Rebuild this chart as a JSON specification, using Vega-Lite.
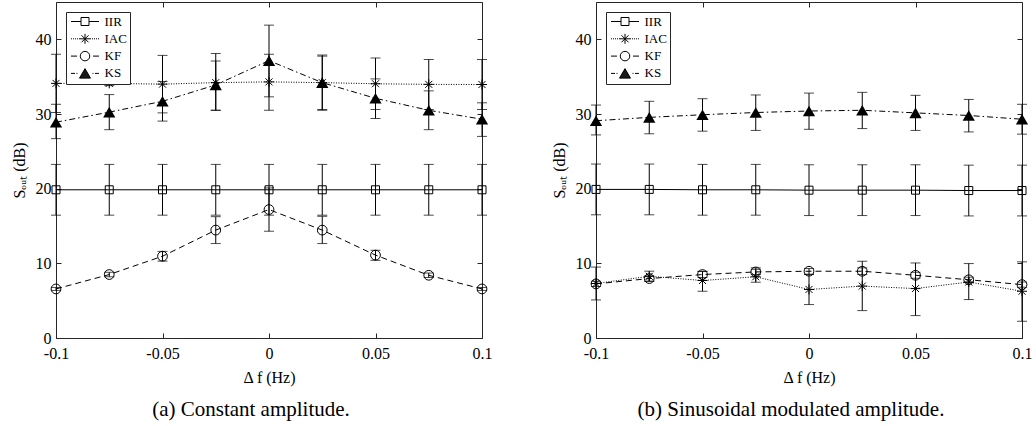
{
  "$schema": "https://vega.github.io/schema/vega-lite/v6.json",
  "padding": {"left": 10, "top": 1, "right": 0, "bottom": 0},
  "bounds": "flush",
  "spacing": 114,
  "resolve": {"scale": {"shape": "independent"}, "legend": {"shape": "independent"}},
  "datasets": {
    "a": [
      {"x": -0.1, "series": "IIR", "y": 19.85, "lo": 16.45, "hi": 23.25},
      {"x": -0.075, "series": "IIR", "y": 19.85, "lo": 16.45, "hi": 23.25},
      {"x": -0.05, "series": "IIR", "y": 19.85, "lo": 16.45, "hi": 23.25},
      {"x": -0.025, "series": "IIR", "y": 19.85, "lo": 16.45, "hi": 23.25},
      {"x": 0, "series": "IIR", "y": 19.85, "lo": 16.45, "hi": 23.25},
      {"x": 0.025, "series": "IIR", "y": 19.85, "lo": 16.45, "hi": 23.25},
      {"x": 0.05, "series": "IIR", "y": 19.85, "lo": 16.45, "hi": 23.25},
      {"x": 0.075, "series": "IIR", "y": 19.85, "lo": 16.45, "hi": 23.25},
      {"x": 0.1, "series": "IIR", "y": 19.85, "lo": 16.45, "hi": 23.25},
      {"x": -0.1, "series": "IAC", "y": 34.1, "lo": 30.2, "hi": 38.0},
      {"x": -0.075, "series": "IAC", "y": 34.1, "lo": 33.8, "hi": 34.4},
      {"x": -0.05, "series": "IAC", "y": 34.0, "lo": 30.15, "hi": 37.85},
      {"x": -0.025, "series": "IAC", "y": 34.2, "lo": 30.5, "hi": 38.1},
      {"x": 0, "series": "IAC", "y": 34.3, "lo": 30.5, "hi": 38.0},
      {"x": 0.025, "series": "IAC", "y": 34.2, "lo": 30.5, "hi": 37.9},
      {"x": 0.05, "series": "IAC", "y": 34.05, "lo": 30.6, "hi": 37.5},
      {"x": 0.075, "series": "IAC", "y": 33.97, "lo": 30.6, "hi": 37.3},
      {"x": 0.1, "series": "IAC", "y": 33.95, "lo": 30.6, "hi": 37.3},
      {"x": -0.1, "series": "KF", "y": 6.57, "lo": 6.37, "hi": 6.77},
      {"x": -0.075, "series": "KF", "y": 8.5, "lo": 8.2, "hi": 8.8},
      {"x": -0.05, "series": "KF", "y": 10.95, "lo": 10.3, "hi": 11.6},
      {"x": -0.025, "series": "KF", "y": 14.45, "lo": 12.65, "hi": 16.25},
      {"x": 0, "series": "KF", "y": 17.2, "lo": 14.3, "hi": 20.1},
      {"x": 0.025, "series": "KF", "y": 14.45, "lo": 12.65, "hi": 16.3},
      {"x": 0.05, "series": "KF", "y": 11.1, "lo": 10.4, "hi": 11.75},
      {"x": 0.075, "series": "KF", "y": 8.4, "lo": 8.1, "hi": 8.7},
      {"x": 0.1, "series": "KF", "y": 6.57, "lo": 6.37, "hi": 6.77},
      {"x": -0.1, "series": "KS", "y": 28.9, "lo": 26.7, "hi": 31.3},
      {"x": -0.075, "series": "KS", "y": 30.25, "lo": 27.9, "hi": 32.6},
      {"x": -0.05, "series": "KS", "y": 31.7, "lo": 29.05, "hi": 34.35},
      {"x": -0.025, "series": "KS", "y": 33.9, "lo": 30.5, "hi": 37.1},
      {"x": 0, "series": "KS", "y": 37.15, "lo": 32.3, "hi": 41.9},
      {"x": 0.025, "series": "KS", "y": 34.2, "lo": 30.6, "hi": 37.75},
      {"x": 0.05, "series": "KS", "y": 32.1, "lo": 29.4, "hi": 34.7},
      {"x": 0.075, "series": "KS", "y": 30.5, "lo": 27.9, "hi": 33.1},
      {"x": 0.1, "series": "KS", "y": 29.3, "lo": 27.0, "hi": 31.5}
    ],
    "b": [
      {"x": -0.1, "series": "IIR", "y": 19.9, "lo": 16.5, "hi": 23.3},
      {"x": -0.075, "series": "IIR", "y": 19.9, "lo": 16.5, "hi": 23.3},
      {"x": -0.05, "series": "IIR", "y": 19.85, "lo": 16.45, "hi": 23.25},
      {"x": -0.025, "series": "IIR", "y": 19.85, "lo": 16.45, "hi": 23.25},
      {"x": 0, "series": "IIR", "y": 19.8, "lo": 16.4, "hi": 23.2},
      {"x": 0.025, "series": "IIR", "y": 19.8, "lo": 16.4, "hi": 23.2},
      {"x": 0.05, "series": "IIR", "y": 19.8, "lo": 16.4, "hi": 23.2},
      {"x": 0.075, "series": "IIR", "y": 19.75, "lo": 16.35, "hi": 23.15},
      {"x": 0.1, "series": "IIR", "y": 19.75, "lo": 16.35, "hi": 23.15},
      {"x": -0.1, "series": "IAC", "y": 7.3, "lo": 5.1, "hi": 9.5},
      {"x": -0.075, "series": "IAC", "y": 8.27, "lo": 7.6, "hi": 8.95},
      {"x": -0.05, "series": "IAC", "y": 7.7, "lo": 6.26, "hi": 8.94},
      {"x": -0.025, "series": "IAC", "y": 8.2, "lo": 7.47, "hi": 9.4},
      {"x": 0, "series": "IAC", "y": 6.5, "lo": 4.48, "hi": 8.5},
      {"x": 0.025, "series": "IAC", "y": 6.95, "lo": 3.67, "hi": 10.28},
      {"x": 0.05, "series": "IAC", "y": 6.62, "lo": 3.0, "hi": 10.05},
      {"x": 0.075, "series": "IAC", "y": 7.5, "lo": 5.15, "hi": 9.97},
      {"x": 0.1, "series": "IAC", "y": 6.26, "lo": 2.24, "hi": 10.2},
      {"x": -0.1, "series": "KF", "y": 7.25, "lo": 6.9, "hi": 7.6},
      {"x": -0.075, "series": "KF", "y": 7.96, "lo": 7.6, "hi": 8.3},
      {"x": -0.05, "series": "KF", "y": 8.5, "lo": 8.1, "hi": 8.9},
      {"x": -0.025, "series": "KF", "y": 8.85, "lo": 8.5, "hi": 9.2},
      {"x": 0, "series": "KF", "y": 8.94, "lo": 8.55, "hi": 9.3},
      {"x": 0.025, "series": "KF", "y": 8.94, "lo": 8.5, "hi": 9.4},
      {"x": 0.05, "series": "KF", "y": 8.4, "lo": 8.0, "hi": 8.8},
      {"x": 0.075, "series": "KF", "y": 7.8, "lo": 7.45, "hi": 8.15},
      {"x": 0.1, "series": "KF", "y": 7.15, "lo": 6.8, "hi": 7.5},
      {"x": -0.1, "series": "KS", "y": 29.1, "lo": 27.2, "hi": 31.2},
      {"x": -0.075, "series": "KS", "y": 29.55, "lo": 27.35, "hi": 31.7},
      {"x": -0.05, "series": "KS", "y": 29.9, "lo": 27.7, "hi": 32.05},
      {"x": -0.025, "series": "KS", "y": 30.2, "lo": 27.8, "hi": 32.55},
      {"x": 0, "series": "KS", "y": 30.4, "lo": 27.95, "hi": 32.8},
      {"x": 0.025, "series": "KS", "y": 30.5, "lo": 28.05, "hi": 32.9},
      {"x": 0.05, "series": "KS", "y": 30.15, "lo": 27.8, "hi": 32.5},
      {"x": 0.075, "series": "KS", "y": 29.8, "lo": 27.6, "hi": 31.95},
      {"x": 0.1, "series": "KS", "y": 29.3, "lo": 27.3, "hi": 31.3}
    ]
  },
  "hconcat": [
    {
      "width": 426, "height": 336,
      "data": {"name": "a"},
      "title": {"text": "(a) Constant amplitude.", "orient": "bottom", "dx": -18, "offset": 14},
      "resolve": {"axis": {"x": "independent", "y": "independent"}},
      "layer": [
        {"mark": {"type": "rule", "color": "black", "strokeWidth": 1},
         "encoding": {
           "x": {"field": "x", "type": "quantitative", "scale": {"domain": [-0.1, 0.1], "nice": false, "zero": false},
                 "axis": {"orient": "bottom", "values": [-0.1, -0.05, 0, 0.05, 0.1], "labelExpr": "'' + datum.value", "labelPadding": 12, "title": "Δ f (Hz)", "titlePadding": 8}},
           "y": {"field": "lo", "type": "quantitative", "scale": {"domain": [0, 45], "nice": false, "zero": false},
                 "axis": {"orient": "left", "values": [0, 10, 20, 30, 40], "labelPadding": 10, "title": "Sₒᵤₜ (dB)", "titlePadding": 8}},
           "y2": {"field": "hi"}}},
        {"transform": [{"filter": "datum.series === 'IIR'"}],
         "mark": {"type": "line", "color": "black", "strokeWidth": 1},
         "encoding": {
           "x": {"field": "x", "type": "quantitative", "axis": {"orient": "top", "values": [-0.1, -0.05, 0, 0.05, 0.1], "labels": false, "title": null}},
           "y": {"field": "y", "type": "quantitative", "axis": {"orient": "right", "values": [0, 10, 20, 30, 40], "labels": false, "title": null}}}},
        {"transform": [{"filter": "datum.series === 'IAC'"}],
         "mark": {"type": "line", "color": "black", "strokeWidth": 1, "strokeDash": [1, 1.5]},
         "encoding": {"x": {"field": "x", "type": "quantitative", "axis": null}, "y": {"field": "y", "type": "quantitative", "axis": null}}},
        {"transform": [{"filter": "datum.series === 'KF'"}],
         "mark": {"type": "line", "color": "black", "strokeWidth": 1, "strokeDash": [6, 4]},
         "encoding": {"x": {"field": "x", "type": "quantitative", "axis": null}, "y": {"field": "y", "type": "quantitative", "axis": null}}},
        {"transform": [{"filter": "datum.series === 'KS'"}],
         "mark": {"type": "line", "color": "black", "strokeWidth": 1, "strokeDash": [6, 3, 1.5, 3]},
         "encoding": {"x": {"field": "x", "type": "quantitative", "axis": null}, "y": {"field": "y", "type": "quantitative", "axis": null}}},
        {"mark": {"type": "tick", "orient": "horizontal", "color": "black", "size": 10, "thickness": 1},
         "encoding": {"x": {"field": "x", "type": "quantitative", "axis": null}, "y": {"field": "lo", "type": "quantitative", "axis": null}}},
        {"mark": {"type": "tick", "orient": "horizontal", "color": "black", "size": 10, "thickness": 1},
         "encoding": {"x": {"field": "x", "type": "quantitative", "axis": null}, "y": {"field": "hi", "type": "quantitative", "axis": null}}},
        {"transform": [{"filter": "datum.series === 'IIR'"}],
         "mark": {"type": "point", "shape": "square", "size": 64, "filled": false, "color": "black", "strokeWidth": 1, "opacity": 1},
         "encoding": {"x": {"field": "x", "type": "quantitative", "axis": null}, "y": {"field": "y", "type": "quantitative", "axis": null}}},
        {"transform": [{"filter": "datum.series === 'IAC'"}],
         "mark": {"type": "point", "shape": "M-1,0H1M0,-1V1M-0.7,-0.7L0.7,0.7M-0.7,0.7L0.7,-0.7", "size": 100, "filled": false, "color": "black", "strokeWidth": 1, "opacity": 1},
         "encoding": {"x": {"field": "x", "type": "quantitative", "axis": null}, "y": {"field": "y", "type": "quantitative", "axis": null}}},
        {"transform": [{"filter": "datum.series === 'KF'"}],
         "mark": {"type": "point", "shape": "circle", "size": 95, "filled": false, "color": "black", "strokeWidth": 1, "opacity": 1},
         "encoding": {"x": {"field": "x", "type": "quantitative", "axis": null}, "y": {"field": "y", "type": "quantitative", "axis": null}}},
        {"transform": [{"filter": "datum.series === 'KS'"}],
         "mark": {"type": "point", "shape": "triangle-up", "size": 150, "filled": true, "color": "black", "opacity": 1},
         "encoding": {"x": {"field": "x", "type": "quantitative", "axis": null}, "y": {"field": "y", "type": "quantitative", "axis": null}}},
        {"mark": {"type": "point", "size": 0, "filled": false, "color": "black", "strokeWidth": 1},
         "encoding": {
           "x": {"field": "x", "type": "quantitative", "axis": null},
           "y": {"field": "y", "type": "quantitative", "axis": null},
           "shape": {"field": "series", "type": "nominal",
             "scale": {"domain": ["IIR", "IAC", "KF", "KS"],
               "range": [
                 "M-2.8,0H-0.8M0.8,0H2.8M-0.8,-0.8H0.8V0.8H-0.8Z",
                 "M-2.8,0h0.2M-2.4,0h0.2M-2,0h0.2M-1.6,0h0.2M-1.2,0h0.2M1,0h0.2M1.4,0h0.2M1.8,0h0.2M2.2,0h0.2M2.6,0h0.2M-1,0H1M0,-1V1M-0.7,-0.7L0.7,0.7M-0.7,0.7L0.7,-0.7",
                 "M-2.8,0H-1.6M1.6,0H2.8M-0.95,0A0.95,0.95 0 1 0 0.95,0A0.95,0.95 0 1 0 -0.95,0",
                 "M-2.8,0H-2.0M-1.7,0H-1.5M1.5,0H1.7M2.0,0H2.8M0,-0.95L-1.1,0.95H1.1ZM-0.087,-0.8H0.087M-0.203,-0.6H0.203M-0.318,-0.4H0.318M-0.434,-0.2H0.434M-0.55,0H0.55M-0.666,0.2H0.666M-0.78,0.4H0.78M-0.897,0.6H0.897M-1.013,0.8H1.013"
               ]},
             "legend": {"orient": "top-left", "offset": 10, "title": null}}}}
      ]
    },
    {
      "width": 426, "height": 336,
      "data": {"name": "b"},
      "title": {"text": "(b) Sinusoidal modulated amplitude.", "orient": "bottom", "dx": -18, "offset": 14},
      "resolve": {"axis": {"x": "independent", "y": "independent"}},
      "layer": [
        {"mark": {"type": "rule", "color": "black", "strokeWidth": 1},
         "encoding": {
           "x": {"field": "x", "type": "quantitative", "scale": {"domain": [-0.1, 0.1], "nice": false, "zero": false},
                 "axis": {"orient": "bottom", "values": [-0.1, -0.05, 0, 0.05, 0.1], "labelExpr": "'' + datum.value", "labelPadding": 12, "title": "Δ f (Hz)", "titlePadding": 8}},
           "y": {"field": "lo", "type": "quantitative", "scale": {"domain": [0, 45], "nice": false, "zero": false},
                 "axis": {"orient": "left", "values": [0, 10, 20, 30, 40], "labelPadding": 10, "title": "Sₒᵤₜ (dB)", "titlePadding": 8}},
           "y2": {"field": "hi"}}},
        {"transform": [{"filter": "datum.series === 'IIR'"}],
         "mark": {"type": "line", "color": "black", "strokeWidth": 1},
         "encoding": {
           "x": {"field": "x", "type": "quantitative", "axis": {"orient": "top", "values": [-0.1, -0.05, 0, 0.05, 0.1], "labels": false, "title": null}},
           "y": {"field": "y", "type": "quantitative", "axis": {"orient": "right", "values": [0, 10, 20, 30, 40], "labels": false, "title": null}}}},
        {"transform": [{"filter": "datum.series === 'IAC'"}],
         "mark": {"type": "line", "color": "black", "strokeWidth": 1, "strokeDash": [1, 1.5]},
         "encoding": {"x": {"field": "x", "type": "quantitative", "axis": null}, "y": {"field": "y", "type": "quantitative", "axis": null}}},
        {"transform": [{"filter": "datum.series === 'KF'"}],
         "mark": {"type": "line", "color": "black", "strokeWidth": 1, "strokeDash": [6, 4]},
         "encoding": {"x": {"field": "x", "type": "quantitative", "axis": null}, "y": {"field": "y", "type": "quantitative", "axis": null}}},
        {"transform": [{"filter": "datum.series === 'KS'"}],
         "mark": {"type": "line", "color": "black", "strokeWidth": 1, "strokeDash": [6, 3, 1.5, 3]},
         "encoding": {"x": {"field": "x", "type": "quantitative", "axis": null}, "y": {"field": "y", "type": "quantitative", "axis": null}}},
        {"mark": {"type": "tick", "orient": "horizontal", "color": "black", "size": 10, "thickness": 1},
         "encoding": {"x": {"field": "x", "type": "quantitative", "axis": null}, "y": {"field": "lo", "type": "quantitative", "axis": null}}},
        {"mark": {"type": "tick", "orient": "horizontal", "color": "black", "size": 10, "thickness": 1},
         "encoding": {"x": {"field": "x", "type": "quantitative", "axis": null}, "y": {"field": "hi", "type": "quantitative", "axis": null}}},
        {"transform": [{"filter": "datum.series === 'IIR'"}],
         "mark": {"type": "point", "shape": "square", "size": 64, "filled": false, "color": "black", "strokeWidth": 1, "opacity": 1},
         "encoding": {"x": {"field": "x", "type": "quantitative", "axis": null}, "y": {"field": "y", "type": "quantitative", "axis": null}}},
        {"transform": [{"filter": "datum.series === 'IAC'"}],
         "mark": {"type": "point", "shape": "M-1,0H1M0,-1V1M-0.7,-0.7L0.7,0.7M-0.7,0.7L0.7,-0.7", "size": 100, "filled": false, "color": "black", "strokeWidth": 1, "opacity": 1},
         "encoding": {"x": {"field": "x", "type": "quantitative", "axis": null}, "y": {"field": "y", "type": "quantitative", "axis": null}}},
        {"transform": [{"filter": "datum.series === 'KF'"}],
         "mark": {"type": "point", "shape": "circle", "size": 95, "filled": false, "color": "black", "strokeWidth": 1, "opacity": 1},
         "encoding": {"x": {"field": "x", "type": "quantitative", "axis": null}, "y": {"field": "y", "type": "quantitative", "axis": null}}},
        {"transform": [{"filter": "datum.series === 'KS'"}],
         "mark": {"type": "point", "shape": "triangle-up", "size": 150, "filled": true, "color": "black", "opacity": 1},
         "encoding": {"x": {"field": "x", "type": "quantitative", "axis": null}, "y": {"field": "y", "type": "quantitative", "axis": null}}},
        {"mark": {"type": "point", "size": 0, "filled": false, "color": "black", "strokeWidth": 1},
         "encoding": {
           "x": {"field": "x", "type": "quantitative", "axis": null},
           "y": {"field": "y", "type": "quantitative", "axis": null},
           "shape": {"field": "series", "type": "nominal",
             "scale": {"domain": ["IIR", "IAC", "KF", "KS"],
               "range": [
                 "M-2.8,0H-0.8M0.8,0H2.8M-0.8,-0.8H0.8V0.8H-0.8Z",
                 "M-2.8,0h0.2M-2.4,0h0.2M-2,0h0.2M-1.6,0h0.2M-1.2,0h0.2M1,0h0.2M1.4,0h0.2M1.8,0h0.2M2.2,0h0.2M2.6,0h0.2M-1,0H1M0,-1V1M-0.7,-0.7L0.7,0.7M-0.7,0.7L0.7,-0.7",
                 "M-2.8,0H-1.6M1.6,0H2.8M-0.95,0A0.95,0.95 0 1 0 0.95,0A0.95,0.95 0 1 0 -0.95,0",
                 "M-2.8,0H-2.0M-1.7,0H-1.5M1.5,0H1.7M2.0,0H2.8M0,-0.95L-1.1,0.95H1.1ZM-0.087,-0.8H0.087M-0.203,-0.6H0.203M-0.318,-0.4H0.318M-0.434,-0.2H0.434M-0.55,0H0.55M-0.666,0.2H0.666M-0.78,0.4H0.78M-0.897,0.6H0.897M-1.013,0.8H1.013"
               ]},
             "legend": {"orient": "top-left", "offset": 10, "title": null}}}}
      ]
    }
  ],
  "config": {
    "font": "Liberation Serif",
    "background": "white",
    "view": {"stroke": "#262626", "strokeWidth": 1},
    "axis": {"grid": false, "domain": false, "tickColor": "#262626", "tickSize": -5, "tickWidth": 1,
             "labelFont": "Liberation Serif", "labelFontSize": 16, "labelColor": "#000", "labelFlush": false, "labelOverlap": false,
             "titleFont": "Liberation Serif", "titleFontSize": 16, "titleFontWeight": "normal", "titleColor": "#000"},
    "legend": {"padding": 3, "strokeColor": "#262626", "fillColor": "white", "symbolSize": 100, "symbolStrokeWidth": 1,
               "symbolStrokeColor": "black", "symbolFillColor": "transparent", "symbolOpacity": 1, "symbolOffset": 9.5,
               "labelOffset": 13, "labelFont": "Liberation Serif", "labelFontSize": 13, "labelColor": "#000", "rowPadding": 2.3},
    "title": {"font": "Liberation Serif", "fontSize": 21, "fontWeight": "normal", "color": "#000"}
  }
}
